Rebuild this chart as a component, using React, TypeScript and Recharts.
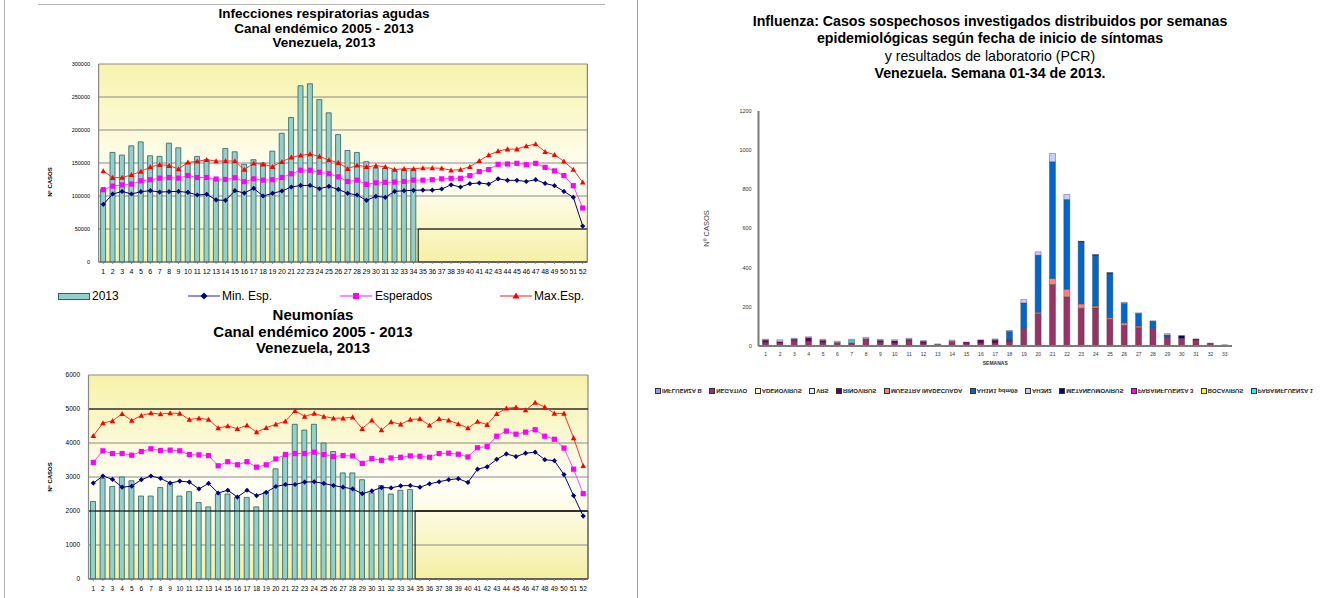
import React from 'react';
import {
  ComposedChart, BarChart, Bar, Line, XAxis, YAxis, CartesianGrid,
  ReferenceLine, ReferenceArea, Legend,
} from 'recharts';

const FONT = '"Liberation Sans", Arial, sans-serif';

// ---------- Data: weeks ----------
const weeks52 = ['1','2','3','4','5','6','7','8','9','10','11','12','13','14','15','16','17','18','19','20','21','22','23','24','25','26','27','28','29','30','31','32','33','34','35','36','37','38','39','40','41','42','43','44','45','46','47','48','49','50','51','52'];
const weeks33 = ['1','2','3','4','5','6','7','8','9','10','11','12','13','14','15','16','17','18','19','20','21','22','23','24','25','26','27','28','29','30','31','32','33'];

// ---------- Infecciones respiratorias agudas ----------
const ira2013 = [110000,166000,162000,176000,182000,161000,160000,180000,173000,150000,160000,155000,125000,172000,167000,148000,155000,150000,168000,195000,219000,267000,270000,246000,226000,193000,169000,166000,152000,142000,142000,140000,140000,140000];
const iraMin = [87400,103000,107000,103000,106600,108000,106000,106600,107000,105500,101500,102500,94000,93400,108000,104500,111600,100000,104000,107600,113600,116000,116000,111000,114600,110000,104000,101500,93400,99500,98000,107000,108000,108600,109000,109000,110600,117000,113600,118700,119700,118000,126000,123700,123700,122000,124700,119000,115600,107000,98000,54500];
const iraEsp = [109600,115000,116700,118000,123000,124700,127000,128000,127000,131000,128000,128000,125700,125000,127700,121700,126000,124000,124700,128000,133800,139000,139000,136000,133800,129000,122000,124000,117700,120000,120700,121000,122000,124000,124000,124700,126000,126800,126800,130800,137000,140000,148000,148500,149500,147500,149500,143400,138000,131000,115600,81800];
const iraMax = [137900,127800,128000,132000,137000,144000,147500,146000,141000,151000,152500,155000,153000,153000,153000,140000,149500,148000,144400,152000,158600,161600,163600,160000,154500,150500,141400,146500,144400,146000,144400,140000,141400,141400,142400,142400,142000,139000,140000,144400,153500,162000,168000,171000,171000,175700,178800,167000,162600,152500,140000,120700];
const iraTicks = [0,50000,100000,150000,200000,250000,300000];

// ---------- Neumonías ----------
const neu2013 = [2280,2960,2720,3000,2890,2440,2440,2690,2800,2440,2570,2250,2120,2500,2500,2410,2400,2120,2560,3240,3600,4550,4380,4550,4000,3750,3120,3120,2920,2530,2750,2500,2610,2630];
const neuMin = [2820,3030,2930,2700,2730,2920,3030,2960,2820,2880,2850,2650,2810,2530,2610,2410,2610,2450,2550,2720,2780,2780,2850,2860,2810,2750,2700,2650,2510,2590,2690,2680,2740,2750,2700,2800,2860,2920,2950,2840,3230,3300,3520,3680,3600,3700,3730,3510,3480,3070,2450,1850];
const neuEsp = [3430,3770,3690,3690,3640,3750,3830,3780,3790,3770,3660,3650,3630,3330,3450,3360,3450,3290,3360,3530,3660,3690,3690,3730,3660,3600,3630,3620,3400,3540,3490,3560,3580,3620,3610,3580,3690,3700,3670,3590,3860,3900,4200,4350,4260,4320,4390,4200,4110,3850,3230,2510];
const neuMax = [4210,4590,4650,4860,4660,4810,4880,4850,4880,4870,4690,4730,4690,4440,4500,4420,4520,4320,4450,4550,4640,4950,4780,4870,4780,4730,4730,4760,4420,4670,4380,4620,4550,4690,4710,4520,4710,4670,4560,4440,4630,4540,4860,5020,5050,4970,5190,5060,4870,4870,4150,3330];
const neuTicks = [0,1000,2000,3000,4000,5000,6000];

// ---------- Influenza (semanas 1-33) ----------
const fluInfluenzaB = [0,0,0,0,0,0,0,0,0,0,0,0,0,0,0,0,0,0,0,0,0,0,0,0,0,0,0,0,0,0,0,0,0];
const fluNegativo = [17,14,27,24,17,18,17,37,17,14,27,12,8,24,12,15,15,22,89,165,314,251,193,194,137,106,94,90,46,39,32,15,4];
const fluAdenovirus = [0,0,0,0,0,0,0,0,0,0,0,0,0,0,0,0,0,0,0,0,0,0,0,0,0,0,0,0,0,0,0,0,0];
const fluVRS = [0,0,0,0,0,0,0,0,0,0,0,0,0,0,0,0,0,0,0,0,0,0,0,0,0,0,0,0,0,0,0,0,0];
const fluRinovirus = [13,8,8,18,12,0,0,0,12,12,7,12,0,0,8,16,15,8,0,0,0,0,0,0,0,0,0,0,0,0,0,0,0];
const fluMuestra = [0,0,0,0,0,0,0,0,0,0,0,0,0,0,0,0,2,0,0,7,31,39,22,10,8,12,8,0,0,0,0,0,0];
const fluAH1N1 = [0,0,0,0,0,0,0,0,0,0,0,0,0,0,0,0,0,45,131,292,596,458,315,258,225,100,64,36,10,0,0,0,0];
const fluAH3N2 = [4,10,4,5,5,6,9,7,5,6,5,3,2,6,0,0,4,4,17,17,42,26,0,0,0,5,3,2,7,0,0,0,0];
const fluMetaneumo = [0,0,0,0,0,0,0,0,0,0,0,0,0,0,0,0,0,0,0,0,0,0,5,5,5,0,0,0,0,14,4,0,1];
const fluPara3 = [0,0,0,0,0,0,0,0,0,0,0,0,0,0,0,0,0,0,0,0,0,0,0,0,0,0,0,0,0,0,0,0,0];
const fluBocavirus = [0,0,0,0,0,0,0,0,0,0,0,0,0,0,0,0,0,0,0,0,0,0,0,0,0,0,0,0,0,0,0,0,0];
const fluPara1 = [0,0,0,0,0,0,8,0,0,0,0,0,0,0,0,0,0,0,0,0,0,0,0,0,0,0,0,0,0,0,0,0,0];
const fluTicks = [0,200,400,600,800,1000,1200];
const fluNames = ['INFLUENZA B','NEGATIVO','ADENOVIRUS','VRS','RINOVIRUS','MUESTRA INADECUADA','AH1N1 pdm09','AH3N2','METANEUMOVIRUS','PARAINFLUENZA 3','BOCAVIRUS','PARAINFLUENZA 1'];
const fluValues = [fluInfluenzaB, fluNegativo, fluAdenovirus, fluVRS, fluRinovirus, fluMuestra, fluAH1N1, fluAH3N2, fluMetaneumo, fluPara3, fluBocavirus, fluPara1];

// ---------- styles ----------
const fluColors = ['#9999FF','#993366','#FFFFCC','#CCFFFF','#660066','#FF8080','#0066CC','#CCCCFF','#000080','#FF00FF','#FFFF00','#00FFFF'];
const BAR_FILL = '#93CFCB';
const BAR_STROKE = '#2F5F5F';
const MIN_C = '#000080';
const ESP_C = '#FF00FF';
const MAX_C = '#FF0000';

// ---------- tables ----------
const iraData = weeks52.map((w, i) => ({ week: w, obs: i < ira2013.length ? ira2013[i] : null, min: iraMin[i], esp: iraEsp[i], max: iraMax[i] }));
const neuData = weeks52.map((w, i) => ({ week: w, obs: i < neu2013.length ? neu2013[i] : null, min: neuMin[i], esp: neuEsp[i], max: neuMax[i] }));
const fluKeys = fluNames.map((_, k) => 's' + k);
const fluData = weeks33.map((w, i) => {
  const row: any = { week: w };
  fluValues.forEach((arr, k) => { row[fluKeys[k]] = arr[i]; });
  return row;
});

// ---------- markers ----------
const DiamondDot = (p: any) => {
  const { cx, cy, index } = p;
  if (cx == null || cy == null) return <g key={'dm' + index} />;
  const s = 2.6;
  return <path key={'dm' + index} d={`M${cx},${cy - s}L${cx + s},${cy}L${cx},${cy + s}L${cx - s},${cy}Z`} fill={MIN_C} />;
};
const SquareDot = (p: any) => {
  const { cx, cy, index } = p;
  if (cx == null || cy == null) return <g key={'sq' + index} />;
  const s = 2.6;
  return <rect key={'sq' + index} x={cx - s} y={cy - s} width={2 * s} height={2 * s} fill={ESP_C} />;
};
const TriDot = (p: any) => {
  const { cx, cy, index } = p;
  if (cx == null || cy == null) return <g key={'tr' + index} />;
  const s = 2.8;
  return <path key={'tr' + index} d={`M${cx},${cy - s}L${cx + s},${cy + s * 0.8}L${cx - s},${cy + s * 0.8}Z`} fill={MAX_C} />;
};

// ---------- axis titles ----------
const vLabel = (text: string, dist: number, shift: number, size: number, color: string, weight: number) => (p: any) => {
  const vb = p.viewBox || { x: 0, y: 0, width: 0, height: 0 };
  const cx = vb.x + vb.width - dist;
  const cy = vb.y + vb.height / 2 + shift;
  return (
    <text x={cx} y={cy} transform={`rotate(-90 ${cx} ${cy})`} textAnchor="middle" dominantBaseline="central"
      fontSize={size} fontFamily={FONT} fontWeight={weight} fill={color}>{text}</text>
  );
};

// ---------- legends ----------
const IraLegend = () => (
  <div style={{ position: 'relative', width: 640, height: 16, fontFamily: FONT, fontSize: 12, color: '#000' }}>
    <div style={{ position: 'absolute', left: 58, top: 5, width: 32, height: 7, background: BAR_FILL, border: `1px solid ${BAR_STROKE}`, boxSizing: 'border-box' }} />
    <span style={{ position: 'absolute', left: 92, top: 1, lineHeight: '14px' }}>2013</span>
    <svg style={{ position: 'absolute', left: 188, top: 2 }} width={32} height={12}>
      <line x1={0} y1={6} x2={32} y2={6} stroke="#6a6ad8" strokeWidth={1.5} />
      <path d="M16,2.5L19.5,6L16,9.5L12.5,6Z" fill={MIN_C} />
    </svg>
    <span style={{ position: 'absolute', left: 222, top: 1, lineHeight: '14px' }}>Min. Esp.</span>
    <svg style={{ position: 'absolute', left: 340, top: 2 }} width={32} height={12}>
      <line x1={0} y1={6} x2={32} y2={6} stroke="#FF66FF" strokeWidth={1.5} />
      <rect x={13} y={3} width={6} height={6} fill={ESP_C} />
    </svg>
    <span style={{ position: 'absolute', left: 375, top: 1, lineHeight: '14px' }}>Esperados</span>
    <svg style={{ position: 'absolute', left: 500, top: 2 }} width={32} height={12}>
      <line x1={0} y1={6} x2={32} y2={6} stroke="#FF6666" strokeWidth={1.5} />
      <path d="M16,2.5L19.5,8.5L12.5,8.5Z" fill={MAX_C} />
    </svg>
    <span style={{ position: 'absolute', left: 534, top: 1, lineHeight: '14px' }}>Max.Esp.</span>
  </div>
);

const FluLegend = () => (
  <div style={{ display: 'flex', alignItems: 'center', height: 10, paddingLeft: 15, fontFamily: FONT, fontSize: 6, fontWeight: 700, color: '#222', whiteSpace: 'nowrap' }}>
    {fluNames.map((n, k) => (
      <div key={n} style={{ display: 'flex', alignItems: 'center', marginRight: 7.5 }}>
        <span style={{ display: 'inline-block', width: 4, height: 4, background: fluColors[k], border: '0.5px solid #333', marginRight: 1 }} />
        <span style={{ display: 'inline-block', transform: 'scaleY(-1)' }}>{n}</span>
      </div>
    ))}
  </div>
);

const Title = ({ lines, left, top, width, size, lh, weights }: any) => (
  <div style={{ position: 'absolute', left, top, width, textAlign: 'center', fontFamily: FONT, fontSize: size, lineHeight: lh + 'px', color: '#000' }}>
    {lines.map((l: string, i: number) => <div key={i} style={{ fontWeight: weights ? weights[i] : 700 }}>{l}</div>)}
  </div>
);

export default function App() {
  return (
    <div style={{ position: 'absolute', left: 0, top: 0, width: 1320, height: 598, background: '#fff', overflow: 'hidden', fontFamily: FONT }}>
      {/* frame lines */}
      <div style={{ position: 'absolute', left: 4, top: 0, width: 1, height: 598, background: '#b5b5b5' }} />
      <div style={{ position: 'absolute', left: 38, top: 4, width: 567, height: 1, background: '#b5b5b5' }} />
      <div style={{ position: 'absolute', left: 637, top: 0, width: 1, height: 598, background: '#a0a0a0' }} />

      <Title lines={['Infecciones respiratorias agudas', 'Canal endémico 2005 - 2013', 'Venezuela, 2013']} left={124} top={7} width={400} size={13.5} lh={14.5} />
      <Title lines={['Neumonías', 'Canal endémico 2005 - 2013', 'Venezuela, 2013']} left={113} top={307} width={400} size={15} lh={16.5} />
      <Title lines={['Influenza: Casos sospechosos investigados distribuidos por semanas', 'epidemiológicas según fecha de inicio de síntomas', 'y resultados de laboratorio (PCR)', 'Venezuela. Semana 01-34 de 2013.']} left={670} top={13} width={640} size={14.2} lh={17.3} weights={[700, 700, 400, 700]} />

      {/* Chart 1 */}
      <div style={{ position: 'absolute', left: 0, top: 0 }}>
        <ComposedChart width={640} height={310} data={iraData} margin={{ top: 64, right: 52.6, bottom: 6, left: 48.6 }} barSize={5}>
          <defs>
            <linearGradient id="bgIra" x1="0" y1="0" x2="0" y2="1">
              <stop offset="0%" stopColor="#F8F3AC" />
              <stop offset="58%" stopColor="#FFFFF7" />
              <stop offset="100%" stopColor="#F6F0A6" />
            </linearGradient>
          </defs>
          <CartesianGrid vertical={false} stroke="#8a8a8a" strokeWidth={1.2} fill="url(#bgIra)" fillOpacity={1} />
          <XAxis dataKey="week" interval={0} tick={{ fontSize: 7, fill: '#000', fontFamily: FONT }} tickLine={{ stroke: '#888' }} tickSize={2} tickMargin={5.5} axisLine={{ stroke: '#666' }} height={26} />
          <YAxis domain={[0, 300000]} ticks={iraTicks} width={50} tick={{ fontSize: 5.5, fill: '#000', fontFamily: FONT }} tickLine={false} tickSize={0} tickMargin={8.6} axisLine={{ stroke: '#888', strokeWidth: 1.2 }}
            label={vLabel('Nº CASOS', 48.6, 19, 6, '#000', 700)} />
          <ReferenceLine x="52" position="end" stroke="#888" strokeWidth={1.2} />
          <ReferenceArea x1="35" x2="52" y1={0} y2={50000} fill="none" fillOpacity={0} stroke="#000" strokeWidth={1} />
          <Bar dataKey="obs" fill={BAR_FILL} stroke={BAR_STROKE} strokeWidth={0.8} isAnimationActive={false} />
          <Line dataKey="min" stroke={MIN_C} strokeWidth={1} dot={DiamondDot} activeDot={false} isAnimationActive={false} />
          <Line dataKey="esp" stroke="#FF44FF" strokeWidth={1} dot={SquareDot} activeDot={false} isAnimationActive={false} />
          <Line dataKey="max" stroke="#FF3030" strokeWidth={1} dot={TriDot} activeDot={false} isAnimationActive={false} />
          <Legend verticalAlign="bottom" content={<IraLegend />} wrapperStyle={{ left: 0, width: 640 }} />
        </ComposedChart>
      </div>

      {/* Chart 2 */}
      <div style={{ position: 'absolute', left: 0, top: 360 }}>
        <ComposedChart width={640} height={238} data={neuData} margin={{ top: 15, right: 52, bottom: 0, left: 48.5 }} barSize={5}>
          <defs>
            <linearGradient id="bgNeu" x1="0" y1="0" x2="0" y2="1">
              <stop offset="0%" stopColor="#F7F2A8" />
              <stop offset="55%" stopColor="#FFFFF7" />
              <stop offset="100%" stopColor="#F5EFA4" />
            </linearGradient>
          </defs>
          <CartesianGrid vertical={false} stroke="#8a8a8a" strokeWidth={1.2} fill="url(#bgNeu)" fillOpacity={1} />
          <XAxis dataKey="week" interval={0} tick={{ fontSize: 6.5, fill: '#000', fontFamily: FONT }} tickLine={{ stroke: '#888' }} tickSize={2} tickMargin={5.7} axisLine={{ stroke: '#666' }} height={19} />
          <YAxis domain={[0, 6000]} ticks={neuTicks} width={40} tick={{ fontSize: 6.5, fill: '#000', fontFamily: FONT }} tickLine={false} tickSize={0} tickMargin={8.5} axisLine={{ stroke: '#888', strokeWidth: 1.2 }}
            label={vLabel('Nº CASOS', 38.5, 0, 6, '#000', 700)} />
          <ReferenceLine x="52" position="end" stroke="#888" strokeWidth={1.2} />
          <ReferenceLine y={5000} stroke="#000" strokeWidth={1.2} />
          <ReferenceLine y={2000} stroke="#000" strokeWidth={1.2} />
          <ReferenceArea x1="35" x2="52" y1={0} y2={2000} fill="none" fillOpacity={0} stroke="#000" strokeWidth={1} />
          <Bar dataKey="obs" fill={BAR_FILL} stroke={BAR_STROKE} strokeWidth={0.8} isAnimationActive={false} />
          <Line dataKey="min" stroke={MIN_C} strokeWidth={1} dot={DiamondDot} activeDot={false} isAnimationActive={false} />
          <Line dataKey="esp" stroke="#FF44FF" strokeWidth={1} dot={SquareDot} activeDot={false} isAnimationActive={false} />
          <Line dataKey="max" stroke="#FF3030" strokeWidth={1} dot={TriDot} activeDot={false} isAnimationActive={false} />
        </ComposedChart>
      </div>

      {/* Chart 3 */}
      <div style={{ position: 'absolute', left: 640, top: 100 }}>
        <BarChart width={680} height={300} data={fluData} margin={{ top: 11, right: 88, bottom: 4, left: 60 }} barSize={6}>
          <XAxis dataKey="week" interval={0} tick={{ fontSize: 5, fill: '#333', fontFamily: FONT }} tickLine={false} tickSize={0} tickMargin={6} axisLine={{ stroke: '#7a7a7a', strokeWidth: 2 }} height={40}
            label={{ value: 'SEMANAS', position: 'insideTop', offset: 15, fontSize: 5, fontWeight: 700, fill: '#333', fontFamily: FONT }} />
          <YAxis domain={[0, 1200]} ticks={fluTicks} width={58.5} tick={{ fontSize: 5.5, fill: '#333', fontFamily: FONT }} tickLine={false} tickSize={0} tickMargin={6.8} axisLine={{ stroke: '#7a7a7a', strokeWidth: 2 }}
            label={vLabel('Nº CASOS', 51.8, 0, 7.5, '#444', 400)} />
          {fluKeys.map((k, i) => (
            <Bar key={k} dataKey={k} name={fluNames[i]} stackId="flu" fill={fluColors[i]} stroke="#3a3a3a" strokeWidth={0.4} isAnimationActive={false} />
          ))}
          <Legend verticalAlign="bottom" content={<FluLegend />} wrapperStyle={{ left: 0, width: 680 }} />
        </BarChart>
      </div>
    </div>
  );
}
